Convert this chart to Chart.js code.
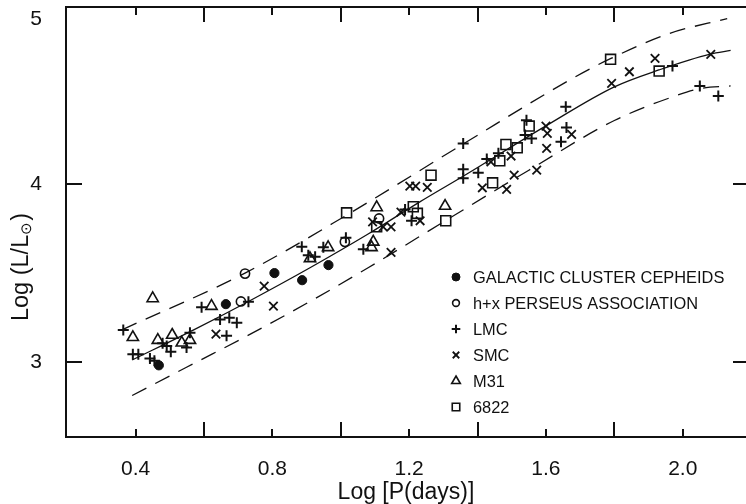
<!DOCTYPE html>
<html>
<head>
<meta charset="utf-8">
<script src="https://cdn.jsdelivr.net/npm/chart.js@4.4.0/dist/chart.umd.min.js"></script>
<style>
html, body { margin: 0; padding: 0; overflow: hidden; background: #fff; }
canvas { display: block; }
</style>
</head>
<body>
<canvas id="plChart" width="746" height="504"></canvas>
<script>
// series names, as in the legend
var seriesNames = ['GALACTIC CLUSTER CEPHEIDS', 'h+x PERSEUS ASSOCIATION', 'LMC', 'SMC', 'M31', '6822'];

// [log P, log L]
var galacticPts = [[0.468, 2.98], [0.664, 3.325], [0.806, 3.50], [0.887, 3.46], [0.964, 3.545]];
var perseusPts = [[0.708, 3.34], [0.720, 3.497], [1.012, 3.676], [1.112, 3.808]];
var lmcPts = [
    [0.364, 3.179], [0.392, 3.042], [0.408, 3.042], [0.442, 3.019], [0.455, 3.006],
    [0.479, 3.104], [0.491, 3.089], [0.503, 3.056], [0.549, 3.081], [0.559, 3.163],
    [0.593, 3.307], [0.730, 3.338], [0.647, 3.239], [0.674, 3.248], [0.696, 3.220],
    [0.666, 3.147], [0.886, 3.648], [0.905, 3.601], [0.925, 3.592], [0.949, 3.645],
    [1.015, 3.699], [1.066, 3.634], [1.188, 3.859], [1.207, 3.795], [1.358, 4.231],
    [1.358, 4.085], [1.358, 4.034], [1.402, 4.065], [1.427, 4.143], [1.461, 4.175],
    [1.539, 4.278], [1.558, 4.259], [1.543, 4.362], [1.658, 4.437], [1.660, 4.321],
    [1.644, 4.240], [1.970, 4.667], [2.050, 4.554], [2.104, 4.498]
];
var smcPts = [
    [0.635, 3.156], [0.776, 3.427], [0.803, 3.314], [1.147, 3.617], [1.093, 3.789],
    [1.124, 3.761], [1.147, 3.761], [1.176, 3.844], [1.232, 3.795], [1.202, 3.990],
    [1.219, 3.990], [1.253, 3.983], [1.414, 3.981], [1.485, 3.972], [1.507, 4.052],
    [1.573, 4.081], [1.498, 4.160], [1.439, 4.127], [1.600, 4.329], [1.604, 4.287],
    [1.675, 4.282], [1.602, 4.203], [1.792, 4.569], [1.844, 4.635], [1.919, 4.710],
    [2.082, 4.733]
];
var m31Pts = [
    [0.450, 3.357], [0.392, 3.138], [0.465, 3.122], [0.507, 3.151], [0.535, 3.107],
    [0.559, 3.122], [0.622, 3.314], [0.910, 3.583], [0.963, 3.645], [1.095, 3.676],
    [1.090, 3.645], [1.105, 3.870], [1.305, 3.878]
];
var ngc6822Pts = [
    [1.017, 3.840], [1.105, 3.761], [1.212, 3.874], [1.224, 3.837], [1.264, 4.052],
    [1.307, 3.795], [1.444, 4.009], [1.465, 4.133], [1.483, 4.225], [1.516, 4.206],
    [1.551, 4.329], [1.789, 4.705], [1.931, 4.639]
];

// ridge line and the two dashed envelope lines
var ridgeLine = [[0.39, 3.01], [0.57, 3.18], [0.73, 3.34], [0.91, 3.53], [1.08, 3.72], [1.23, 3.90],
    [1.37, 4.06], [1.60, 4.33], [1.80, 4.55], [1.93, 4.645], [2.08, 4.735], [2.14, 4.755]];
var upperLine = [[0.36, 3.18], [0.72, 3.50], [1.02, 3.83], [1.36, 4.23], [1.68, 4.60], [1.79, 4.71],
    [1.96, 4.85], [2.13, 4.935]];
var lowerLine = [[0.39, 2.81], [0.57, 2.99], [0.73, 3.15], [0.91, 3.34], [1.08, 3.53], [1.31, 3.80],
    [1.55, 4.08], [1.80, 4.36], [1.98, 4.50], [2.05, 4.54], [2.14, 4.555]];

// ticks
var xTickValues = [0.4, 0.6, 0.8, 1.0, 1.2, 1.4, 1.6, 1.8, 2.0];
var xTickLabels = ['0.4', '0.8', '1.2', '1.6', '2.0'];
var yTickValues = [3, 4, 5];
var yTickLabels = ['3', '4', '5'];

var fontFamily = "'Liberation Sans', Arial, Helvetica, sans-serif";
var ink = '#111';

function toXY(pts) {
    return pts.map(function (p) { return { x: p[0], y: p[1] }; });
}

function markerSet(name, pts, style, radius, fill, width, legendRadius) {
    return {
        label: name,
        data: toXY(pts),
        showLine: false,
        pointStyle: style,
        pointRadius: radius,
        pointHoverRadius: radius,
        pointBackgroundColor: fill,
        pointBorderColor: ink,
        pointBorderWidth: width,
        isMarker: true,
        legendRadius: legendRadius
    };
}

function curveSet(pts, dash) {
    return {
        label: '',
        data: toXY(pts),
        showLine: true,
        borderColor: ink,
        borderWidth: 1.3,
        borderDash: dash,
        pointRadius: 0,
        cubicInterpolationMode: 'monotone',
        fill: false,
        isMarker: false
    };
}

function labelFor(v) {
    var s = (Math.round(v * 10) / 10).toFixed(1);
    return xTickLabels.indexOf(s) >= 0 ? s : '';
}

// frame, inward ticks, y labels, y title and legend
// the right axis of the original sits just past the picture edge
var framePlugin = {
    id: 'frame',
    afterDraw: function (chart) {
        var ctx = chart.ctx;
        var a = chart.chartArea;
        var xs = chart.scales.x;
        var ys = chart.scales.y;
        var rightEdge = a.right + 3;
        ctx.save();
        ctx.strokeStyle = ink;
        ctx.lineWidth = 2;
        ctx.beginPath();
        ctx.moveTo(rightEdge, a.top);
        ctx.lineTo(a.left, a.top);
        ctx.lineTo(a.left, a.bottom);
        ctx.lineTo(rightEdge, a.bottom);
        ctx.stroke();

        ctx.beginPath();
        xTickValues.forEach(function (v) {
            var px = Math.round(xs.getPixelForValue(v));
            var len = labelFor(v) ? 8 : 15;
            ctx.moveTo(px, a.bottom);
            ctx.lineTo(px, a.bottom - len);
            ctx.moveTo(px, a.top);
            ctx.lineTo(px, a.top + len);
        });
        yTickValues.forEach(function (v) {
            var py = Math.round(ys.getPixelForValue(v));
            ctx.moveTo(a.left, py);
            ctx.lineTo(a.left + 16, py);
            ctx.moveTo(rightEdge, py);
            ctx.lineTo(rightEdge - 16, py);
        });
        ctx.stroke();

        // y tick labels
        ctx.fillStyle = ink;
        ctx.font = '21px ' + fontFamily;
        ctx.textAlign = 'right';
        ctx.textBaseline = 'middle';
        yTickValues.forEach(function (v, i) {
            var py = Math.max(ys.getPixelForValue(v), a.top + 12);
            ctx.fillText(yTickLabels[i], a.left - 24, py);
        });

        // y title: Log (L/L⊙)
        var mainFont = '23.5px ' + fontFamily;
        var subFont = '15px ' + fontFamily;
        ctx.font = mainFont;
        var w1 = ctx.measureText('Log (L/L').width;
        var w3 = ctx.measureText(')').width;
        ctx.font = subFont;
        var w2 = ctx.measureText('\u2299').width + 1;
        var total = w1 + w2 + w3;
        ctx.translate(22, 267);
        ctx.rotate(-Math.PI / 2);
        ctx.textAlign = 'left';
        ctx.textBaseline = 'middle';
        var x0 = -total / 2;
        ctx.font = mainFont;
        ctx.fillText('Log (L/L', x0, 0);
        ctx.font = subFont;
        ctx.fillText('\u2299', x0 + w1, 5);
        ctx.font = mainFont;
        ctx.fillText(')', x0 + w1 + w2, 0);
        ctx.restore();

        // legend
        ctx.save();
        var lx = a.left + 390;
        var ly = a.top + 270;
        var markers = chart.data.datasets.filter(function (d) { return d.isMarker; });
        markers.forEach(function (d, i) {
            var y = ly + i * 26;
            ctx.fillStyle = d.pointBackgroundColor;
            ctx.strokeStyle = ink;
            ctx.lineWidth = d.pointBorderWidth;
            Chart.helpers.drawPoint(ctx, {
                pointStyle: d.pointStyle,
                radius: d.legendRadius,
                rotation: 0,
                borderWidth: d.pointBorderWidth
            }, lx, y);
            ctx.fillStyle = ink;
            ctx.font = '16.4px ' + fontFamily;
            ctx.textAlign = 'left';
            ctx.textBaseline = 'middle';
            ctx.fillText(d.label, lx + 17, y + 1);
        });
        ctx.restore();
    }
};

var ctx = document.getElementById('plChart').getContext('2d');
var chart = new Chart(ctx, {
    type: 'scatter',
    data: {
        datasets: [
            curveSet(ridgeLine, []),
            curveSet(upperLine, [16, 10]),
            curveSet(lowerLine, [16, 10]),
            markerSet(seriesNames[0], galacticPts, 'circle', 4.6, ink, 1, 4),
            markerSet(seriesNames[1], perseusPts, 'circle', 4.6, 'rgba(0,0,0,0)', 1.6, 3.4),
            markerSet(seriesNames[2], lmcPts, 'cross', 5.5, ink, 2, 4.3),
            markerSet(seriesNames[3], smcPts, 'crossRot', 6, ink, 1.8, 4.6),
            markerSet(seriesNames[4], m31Pts, 'triangle', 6.5, 'rgba(0,0,0,0)', 1.6, 5),
            markerSet(seriesNames[5], ngc6822Pts, 'rect', 7, 'rgba(0,0,0,0)', 1.6, 5.3)
        ]
    },
    options: {
        responsive: false,
        animation: false,
        layout: { autoPadding: false, padding: { left: 0, right: 0, top: 7, bottom: 0 } },
        plugins: {
            legend: { display: false },
            tooltip: { enabled: false }
        },
        scales: {
            x: {
                type: 'linear',
                min: 0.1965,
                max: 2.185,
                grid: { display: false, drawTicks: false },
                border: { display: false },
                afterBuildTicks: function (s) {
                    s.ticks = xTickValues.map(function (v) { return { value: v }; });
                },
                afterFit: function (s) {
                    s.height = 67;
                    s.paddingLeft = 0;
                    s.paddingRight = 0;
                },
                ticks: {
                    autoSkip: false,
                    maxRotation: 0,
                    padding: 20,
                    color: ink,
                    font: { family: fontFamily, size: 21 },
                    callback: function (v) { return labelFor(v); }
                },
                title: {
                    display: true,
                    text: 'Log [P(days)]',
                    color: ink,
                    padding: { top: 0, bottom: 0 },
                    font: { family: fontFamily, size: 23, lineHeight: 1.0 }
                }
            },
            y: {
                type: 'linear',
                min: 2.576,
                max: 5.0,
                grid: { display: false, drawTicks: false },
                border: { display: false },
                ticks: { display: false },
                afterFit: function (s) {
                    s.width = 66;
                    s.paddingTop = 0;
                    s.paddingBottom = 0;
                }
            }
        }
    },
    plugins: [framePlugin]
});
</script>
</body>
</html>
